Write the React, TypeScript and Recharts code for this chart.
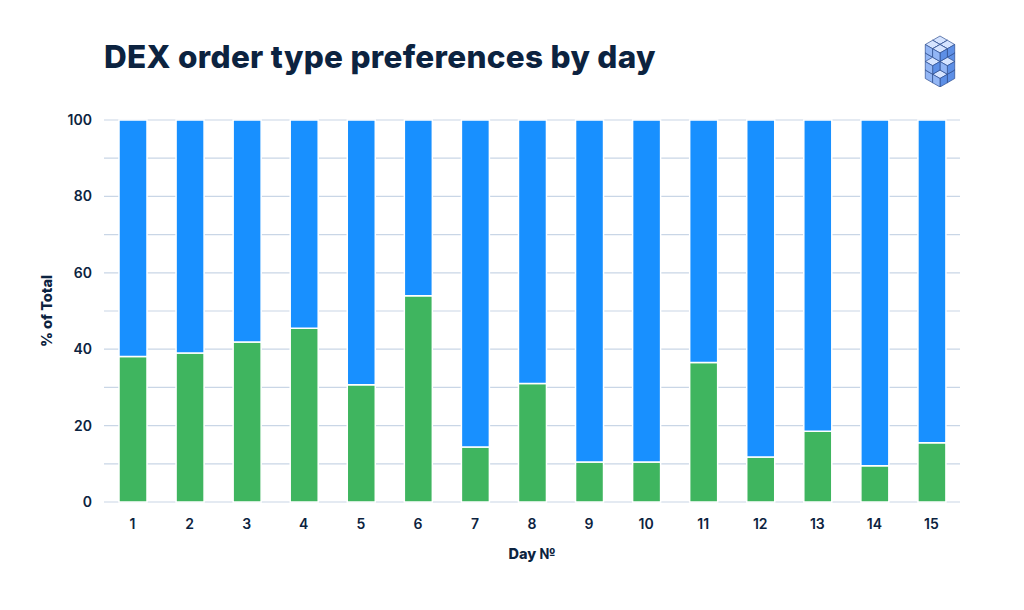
import { Bar, BarChart, CartesianGrid, XAxis, YAxis, Label } from "recharts";

const DAYS = ["1", "2", "3", "4", "5", "6", "7", "8", "9", "10", "11", "12", "13", "14", "15"];
const GREEN_SHARE = [38.1, 39.0, 41.9, 45.5, 30.7, 54.0, 14.4, 31.0, 10.5, 10.5, 36.5, 11.8, 18.5, 9.5, 15.5];
const Y_TICKS = [0, 10, 20, 30, 40, 50, 60, 70, 80, 90, 100];

const data = DAYS.map((day, i) => ({
  day,
  green: GREEN_SHARE[i],
  blue: +(100 - GREEN_SHARE[i]).toFixed(1),
}));

const NAVY = "#0c2340";
const FONT = "Inter, 'Open Sans', sans-serif";

// little isometric cube cluster in the top-right corner
const CUBES: Array<[number, number, number]> = [
  [1, 1, 0], [2, 1, 0], [1, 2, 0], [2, 2, 0],
  [0, 1, 1], [1, 0, 1], [1, 1, 1], [2, 1, 1], [1, 2, 1],
  [0, 0, 2], [1, 0, 2], [0, 1, 2], [1, 1, 2],
];

function Logo() {
  const s = 8.5;
  const ox = 26;
  const oy = 3;
  const p = (i: number, j: number, k: number) =>
    `${ox + (i - j) * s * 0.866},${oy + (i + j) * s * 0.5 - k * s + 3 * s}`;
  const sorted = [...CUBES].sort((a, b) => a[0] + a[1] + a[2] - (b[0] + b[1] + b[2]) || a[2] - b[2]);
  return (
    <svg width={54} height={54} style={{ position: "absolute", left: 914, top: 33 }}>
      {sorted.map(([i, j, k]) => (
        <g key={`${i}-${j}-${k}`} stroke="#2f4f8f" strokeWidth={0.7} strokeLinejoin="round">
          <polygon fill="#d6e4ff" points={[p(i, j, k + 1), p(i + 1, j, k + 1), p(i + 1, j + 1, k + 1), p(i, j + 1, k + 1)].join(" ")} />
          <polygon fill="#5d8fe6" points={[p(i + 1, j, k), p(i + 1, j + 1, k), p(i + 1, j + 1, k + 1), p(i + 1, j, k + 1)].join(" ")} />
          <polygon fill="#93b6f5" points={[p(i, j + 1, k), p(i + 1, j + 1, k), p(i + 1, j + 1, k + 1), p(i, j + 1, k + 1)].join(" ")} />
        </g>
      ))}
    </svg>
  );
}

export default function App() {
  return (
    <div style={{ position: "absolute", left: 0, top: 0, width: 1024, height: 610, background: "#fff", fontFamily: FONT }}>
      <div
        style={{
          position: "absolute",
          left: 104,
          top: 37,
          fontSize: 31.5,
          fontWeight: 800,
          color: NAVY,
          letterSpacing: 0.3,
          whiteSpace: "nowrap",
        }}
      >
        DEX order type preferences by day
      </div>
      <Logo />
      <BarChart
        width={1024}
        height={610}
        data={data}
        margin={{ top: 120, right: 64, bottom: 78, left: 44 }}
        barSize={28}
      >
        <CartesianGrid vertical={false} stroke="#c9d6e6" strokeWidth={1.2} />
        <XAxis
          dataKey="day"
          axisLine={false}
          tickLine={false}
          height={30}
          tickMargin={11}
          tick={{ fill: NAVY, fontSize: 14, fontWeight: 600, fontFamily: FONT }}
        >
          <Label value="Day №" position="bottom" offset={17} fill={NAVY} fontSize={14.5} fontWeight={800} fontFamily={FONT} />
        </XAxis>
        <YAxis
          domain={[0, 100]}
          ticks={Y_TICKS}
          interval={0}
          width={60}
          axisLine={false}
          tickLine={false}
          tickMargin={6}
          tickFormatter={(v: number) => (v % 20 === 0 ? String(v) : "")}
          tick={{ fill: NAVY, fontSize: 14, fontWeight: 600, fontFamily: FONT }}
        >
          <Label
            value="% of Total"
            angle={-90}
            position="insideLeft"
            offset={3}
            style={{ textAnchor: "middle" }}
            fill={NAVY}
            fontSize={14.5}
            fontWeight={800}
            fontFamily={FONT}
          />
        </YAxis>
        <Bar dataKey="green" stackId="a" fill="#3fb55f" stroke="#ffffff" strokeWidth={1.5} isAnimationActive={false} />
        <Bar dataKey="blue" stackId="a" fill="#1890ff" stroke="#ffffff" strokeWidth={1.5} isAnimationActive={false} />
      </BarChart>
    </div>
  );
}
